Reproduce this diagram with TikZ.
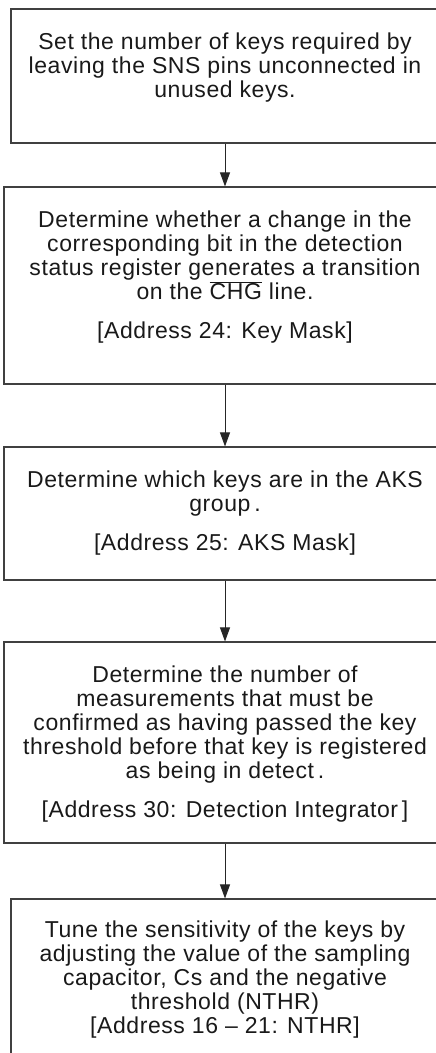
\documentclass[tikz,border=0pt]{standalone}
\usepackage{fontspec}
\setmainfont[LetterSpace=2.5]{Liberation Sans}
\usetikzlibrary{arrows.meta}
\tikzset{
  box/.style={draw=black!75, line width=1.1pt, inner sep=0pt},
  txt/.style={align=center, inner sep=0pt, anchor=north, text=black!90, font=\fontsize{23}{24}\selectfont},
  arr/.style={draw=black!85, line width=0.9pt, -{Triangle[width=10pt,length=14pt]}}
}
\begin{document}
\begin{tikzpicture}[x=1pt,y=1pt]
\useasboundingbox (0,0) rectangle (436,-1053);
\clip (0,0) rectangle (436,-1053);
\node[box, minimum width=428pt, minimum height=134pt] (b1) at (225,-76) {};
\node[box, minimum width=442pt, minimum height=197pt] (b2) at (225,-285.5) {};
\node[box, minimum width=442pt, minimum height=133pt] (b3) at (225,-513.5) {};
\node[box, minimum width=442pt, minimum height=201pt] (b4) at (225,-742.5) {};
\node[box, minimum width=428pt, minimum height=162pt] (b5) at (225,-980) {};
\node[txt] (t1) at (225,-32.4) {Set the number of keys required by\\leaving the SNS pins unconnected in\\unused keys.};
\node[txt] (t2) at (225,-210.4) {Determine whether a change in the\\corresponding bit in the detection\\status register generates a transition\\on the $\overline{\hbox{CHG}}$ line.\\[15pt]{[}Address 24: Key Mask]};
\node[txt] (t3) at (225,-470.4) {Determine which keys are in the AKS\\group\,.\\[15pt]{[}Address 25: AKS Mask]};
\node[txt] (t4) at (225,-665.4) {Determine the number of\\measurements that must be\\confirmed as having passed the key\\threshold before that key is registered\\as being in detect\,.\\[15pt]{[}Address 30: Detection Integrator\,]};
\node[txt] (t5) at (225,-920.4) {Tune the sensitivity of the keys by\\adjusting the value of the sampling\\capacitor, Cs and the negative\\threshold (NTHR)\\{[}Address 16 – 21: NTHR]};
\draw[arr] (b1.south) -- (b2.north);
\draw[arr] (b2.south) -- (b3.north);
\draw[arr] (b3.south) -- (b4.north);
\draw[arr] (b4.south) -- (b5.north);
\end{tikzpicture}
\end{document}
